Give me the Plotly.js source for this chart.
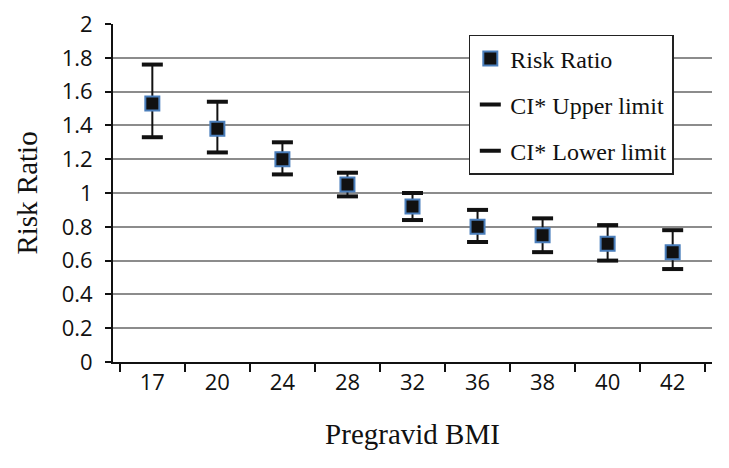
<!DOCTYPE html>
<html><head><meta charset="utf-8">
<script src="https://cdn.plot.ly/plotly-3.0.1.min.js"></script>
<style>html,body{margin:0;padding:0;background:#fff}#chart{width:729px;height:468px}</style>
</head><body><div id="chart"></div>
<script>
const bmi = ["17","20","24","28","32","36","38","40","42"];
const riskRatio = [1.53, 1.38, 1.20, 1.05, 0.92, 0.80, 0.75, 0.70, 0.65];
const ciUpper = [1.76, 1.54, 1.30, 1.12, 1.00, 0.90, 0.85, 0.81, 0.78];
const ciLower = [1.33, 1.24, 1.11, 0.98, 0.84, 0.71, 0.65, 0.60, 0.55];

const serif = "'Liberation Serif', 'Times New Roman', serif";
const sans = "'Liberation Sans Narrow', 'Open Sans', sans-serif";

const rr = { x: bmi, y: riskRatio, type: 'scatter', mode: 'markers', name: 'Risk Ratio',
    legendrank: 1, legendgroup: 'g1',
    marker: { symbol: 'square', size: 14, color: '#111', line: { color: '#4a7ebb', width: 2 } },
    error_y: { type: 'data', symmetric: false,
      array: riskRatio.map((v, i) => ciUpper[i] - v),
      arrayminus: riskRatio.map((v, i) => v - ciLower[i]),
      color: '#111', thickness: 2, width: 0 } };
const up = { x: bmi, y: ciUpper, type: 'scatter', mode: 'markers', name: 'CI* Upper limit',
    legendrank: 2, legendgroup: 'g2',
    marker: { symbol: 'line-ew', size: 15, color: '#111', line: { color: '#111', width: 4 } } };
const lo = { x: bmi, y: ciLower, type: 'scatter', mode: 'markers', name: 'CI* Lower limit',
    legendrank: 3, legendgroup: 'g3',
    marker: { symbol: 'line-ew', size: 15, color: '#111', line: { color: '#111', width: 4 } } };

const layout = {
  width: 729, height: 468,
  margin: { l: 113, r: 17, t: 24, b: 106 },
  paper_bgcolor: '#fff', plot_bgcolor: '#fff',
  showlegend: true,
  legend: { x: 0.594, y: 0.968, xanchor: 'left', yanchor: 'top',
    bgcolor: '#fff', bordercolor: '#222', borderwidth: 1.5,
    font: { family: serif, size: 24, color: '#111' },
    traceorder: 'grouped', tracegroupgap: 12, itemwidth: 30 },
  xaxis: { type: 'category', categoryorder: 'array', categoryarray: bmi,
    showgrid: false, showline: true, linecolor: '#111', linewidth: 2,
    ticks: 'outside', tickson: 'boundaries', ticklen: 8, tickwidth: 2, tickcolor: '#111',
    tickfont: { family: sans, size: 22, color: '#111' }, zeroline: false,
    title: { text: 'Pregravid BMI', font: { family: serif, size: 29, color: '#111' }, standoff: 28 } },
  yaxis: { range: [0, 2], dtick: 0.2, tick0: 0,
    showgrid: true, gridcolor: '#8c8c8c', gridwidth: 2,
    showline: true, linecolor: '#111', linewidth: 2, zeroline: false,
    ticks: 'outside', ticklen: 6, tickwidth: 2, tickcolor: '#111', ticklabelstandoff: 8,
    tickfont: { family: sans, size: 22, color: '#111' },
    title: { text: 'Risk Ratio', font: { family: serif, size: 29, color: '#111' }, standoff: 16 } }
};
Plotly.newPlot('chart', [up, lo, rr], layout, { displayModeBar: false, staticPlot: true });
</script></body></html>
